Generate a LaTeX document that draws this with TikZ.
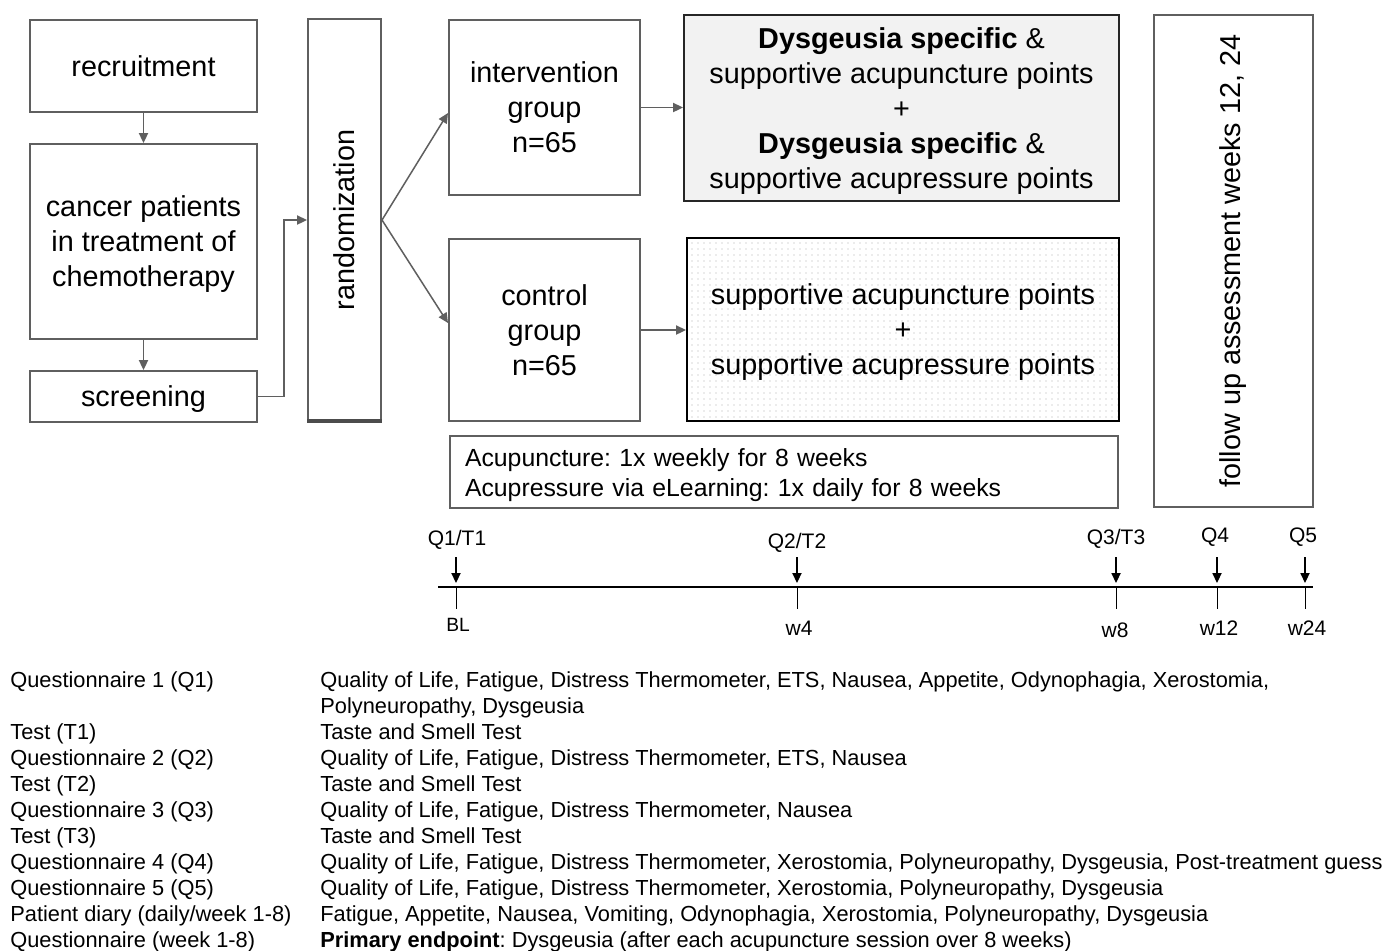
\documentclass[tikz,border=0pt]{standalone}
\usepackage{fontspec}
\setmainfont{Liberation Sans}
\usetikzlibrary{arrows.meta}
\definecolor{boxgray}{RGB}{95,95,95}
\definecolor{fillgray}{RGB}{242,242,242}
\definecolor{dotgray}{RGB}{175,175,175}
\newcommand\fbig{\fontsize{14.4}{17.5}\selectfont}
\newcommand\fmid{\fontsize{12.4}{15}\selectfont}
\newcommand\ftl{\fontsize{10.5}{12}\selectfont}
\newcommand\ftab{\fontsize{10.9}{13}\selectfont}
\frenchspacing
\begin{document}
\begin{tikzpicture}[x=0.5pt,y=-0.5pt,
  box/.style={draw=boxgray,line width=1pt,inner sep=0pt,align=center,font=\fbig},
  arr/.style={draw=boxgray,line width=0.75pt,-{Triangle[length=5pt,width=4.6pt]}},
  tarr/.style={draw=black,line width=0.6pt,-{Triangle[length=5pt,width=4.6pt]}},
  tick/.style={draw=black,line width=0.5pt},
  tlab/.style={font=\ftl,inner sep=0pt},
  tab/.style={font=\ftab,inner sep=0pt,anchor=base west}
]
\useasboundingbox (0,0) rectangle (1385,950);
\fill[white] (0,0) rectangle (1385,950);

% left column
\node[box, minimum width=113.5pt, minimum height=46pt] (rec) at (143.5,66) {recruitment};
\node[box, text depth=-4pt, minimum width=113.5pt, minimum height=97.5pt] (can) at (143.5,241.5) {cancer patients\\in treatment of\\chemotherapy};
\node[box, text depth=-2pt, minimum width=113.5pt, minimum height=25.5pt] (scr) at (143.5,396.5) {screening};
\node[box, minimum width=36.5pt, minimum height=201pt] (rand) at (344.5,220) {\rotatebox{90}{randomization}};
\draw[draw=boxgray!80!black,line width=2pt] ([yshift=0.4pt]rand.south west) -- ([yshift=0.4pt]rand.south east);

% groups
\node[box, minimum width=95.5pt, minimum height=87.5pt] (int) at (544.5,107.5) {intervention\\group\\n=65};
\node[box, minimum width=95.5pt, minimum height=91pt] (ctl) at (544.5,330) {control\\group\\n=65};

% treatment boxes
\node[box, text depth=-2.5pt, draw=black!85, fill=fillgray, minimum width=217.5pt, minimum height=93pt] (dys) at (901.5,108)
  {{\bfseries Dysgeusia specific} \&\\supportive acupuncture points\\+\\{\bfseries Dysgeusia specific} \&\\supportive acupressure points};
\foreach \i in {0,...,71} {
  \foreach \j in {0,...,29} {
    \fill[dotgray] (692+6*\i,243+6*\j) circle (0.33pt);
  }
}
\node[box, text depth=-4pt, draw=black, minimum width=216pt, minimum height=91.5pt] (dot) at (903,329.5)
  {supportive acupuncture points\\+\\supportive acupressure points};

\node[box, font=\fmid, align=left, text depth=14.6pt, text width=319pt, minimum width=334pt, minimum height=36pt] (acu) at (784,472)
  {Acupuncture: 1x weekly for 8 weeks\\Acupressure via eLearning: 1x daily for 8 weeks};

\node[box, minimum width=79.5pt, minimum height=246pt] (fol) at (1233.5,261) {\rotatebox{90}{follow up assessment weeks 12, 24}};

% connectors
\draw[arr] (rec) -- (can);
\draw[arr] (can) -- (scr);
\draw[arr] (scr.east) -- ++(26,0) |- (rand.west);
\draw[arr] (rand.east) -- ([yshift=-2.75pt]int.west);
\draw[arr] (rand.east) -- ([yshift=3.5pt]ctl.west);
\draw[arr] (int.east) -- (int.east -| dys.west);
\draw[arr] (ctl.east) -- (ctl.east -| dot.west);

% timeline
\coordinate (tl0) at (438,587);
\coordinate (tl1) at (1313,587);
\draw[draw=black,line width=0.8pt] (tl0) -- (tl1);

\coordinate (t1) at (456,587);  \coordinate (a1) at (456,557);
\coordinate (t2) at (797,587);  \coordinate (a2) at (797,557);
\coordinate (t3) at (1116,587); \coordinate (a3) at (1116,557);
\coordinate (t4) at (1217,587); \coordinate (a4) at (1217,557);
\coordinate (t5) at (1305,587); \coordinate (a5) at (1305,557);
\coordinate (b1) at (456,609);
\coordinate (b2) at (797,609);
\coordinate (b3) at (1116,609);
\coordinate (b4) at (1217,609);
\coordinate (b5) at (1305,609);
\foreach \k in {1,...,5} {
  \draw[tarr] (a\k) -- ([yshift=2pt]t\k);
  \draw[tick] (t\k) -- (b\k);
}
\node[tlab] (q1) at (457,540) {Q1/T1};
\node[tlab] (q2) at (797,543) {Q2/T2};
\node[tlab] (q3) at (1116,539) {Q3/T3};
\node[tlab] (q4) at (1215,537) {Q4};
\node[tlab] (q5) at (1303,537) {Q5};
\node[tlab,font=\fontsize{9.6}{11}\selectfont] (w0) at (458,625) {BL};
\node[tlab] (w4) at (799,628) {w4};
\node[tlab] (w8) at (1115,630) {w8};
\node[tlab] (w12) at (1219,628) {w12};
\node[tlab] (w24) at (1307,628) {w24};

% table
\node[tab] (l1) at (10,687) {Questionnaire 1 (Q1)};
\node[tab] (r1) at (320,687) {Quality of Life, Fatigue, Distress Thermometer, ETS, Nausea, Appetite, Odynophagia, Xerostomia,};
\node[tab] (r1b) at (320,713) {Polyneuropathy, Dysgeusia};
\node[tab] (l2) at (10,739) {Test (T1)};
\node[tab] (r2) at (320,739) {Taste and Smell Test};
\node[tab] (l3) at (10,765) {Questionnaire 2 (Q2)};
\node[tab] (r3) at (320,765) {Quality of Life, Fatigue, Distress Thermometer, ETS, Nausea};
\node[tab] (l4) at (10,791) {Test (T2)};
\node[tab] (r4) at (320,791) {Taste and Smell Test};
\node[tab] (l5) at (10,817) {Questionnaire 3 (Q3)};
\node[tab] (r5) at (320,817) {Quality of Life, Fatigue, Distress Thermometer, Nausea};
\node[tab] (l6) at (10,843) {Test (T3)};
\node[tab] (r6) at (320,843) {Taste and Smell Test};
\node[tab] (l7) at (10,869) {Questionnaire 4 (Q4)};
\node[tab] (r7) at (320,869) {Quality of Life, Fatigue, Distress Thermometer, Xerostomia, Polyneuropathy, Dysgeusia, Post-treatment guess};
\node[tab] (l8) at (10,895) {Questionnaire 5 (Q5)};
\node[tab] (r8) at (320,895) {Quality of Life, Fatigue, Distress Thermometer, Xerostomia, Polyneuropathy, Dysgeusia};
\node[tab] (l9) at (10,921) {Patient diary (daily/week 1-8)};
\node[tab] (r9) at (320,921) {Fatigue, Appetite, Nausea, Vomiting, Odynophagia, Xerostomia, Polyneuropathy, Dysgeusia};
\node[tab] (l10) at (10,947) {Questionnaire (week 1-8)};
\node[tab] (r10) at (320,947) {\textbf{Primary endpoint}: Dysgeusia (after each acupuncture session over 8 weeks)};
\end{tikzpicture}
\end{document}
